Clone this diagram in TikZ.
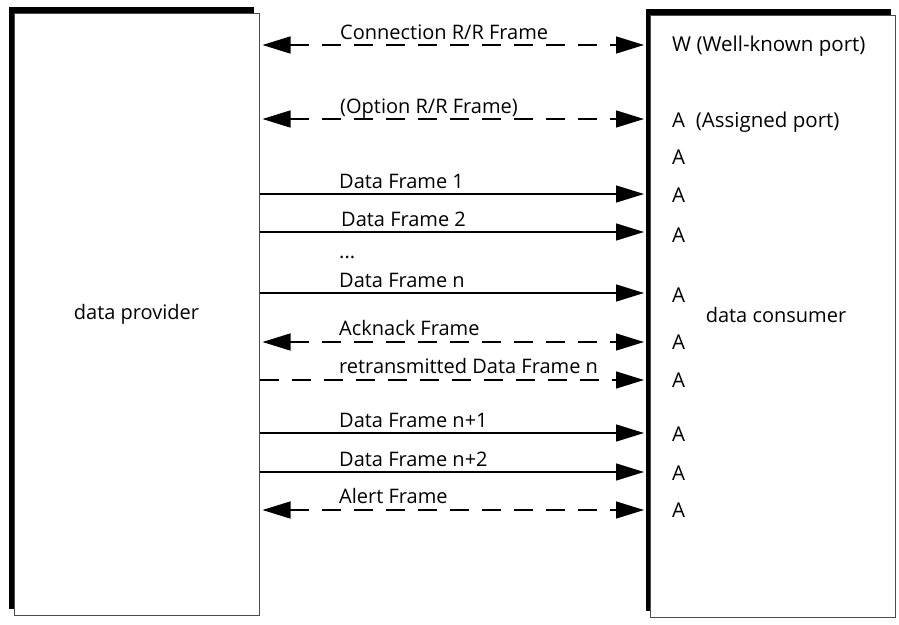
\documentclass[tikz,border=0pt]{standalone}
\usepackage{fontspec}
\setmainfont{Open Sans}
\usetikzlibrary{arrows.meta, shadows, positioning, calc}
\tikzstyle{party} = [rectangle, draw=black!70, line width=1pt, fill=white, minimum width=245pt, minimum height=602pt, general shadow={fill=black, shadow xshift=-5pt, shadow yshift=6pt}]
\tikzstyle{frame} = [line width=1.4pt, -{Triangle[length=28pt,width=17pt]}]
\tikzstyle{control} = [frame, {Triangle[length=28pt,width=17pt]}-{Triangle[length=28pt,width=17pt]}, dash pattern=on 19pt off 13pt]
\tikzstyle{resend} = [frame, dash pattern=on 19pt off 13pt]
\tikzstyle{framename} = [anchor=base west, inner sep=0pt]
\tikzstyle{port} = [anchor=base west, inner sep=0pt, font=\fontsize{20.5}{24}\selectfont]

\begin{document}
\begin{tikzpicture}[x=1pt, y=-1pt, font=\fontsize{20}{24}\selectfont]
    \useasboundingbox (0,0) rectangle (899,624);
    \node[party] (provider) at (136.5,314) {data provider};
    \node[party] (consumer) at (773,316) {\raisebox{3pt}{\hspace{6pt}data consumer}};
    \coordinate (outlet) at ([xshift=3pt]provider.east);
    \coordinate (inlet) at ([xshift=-6pt]consumer.west);

    % ports of the consumer
    \node[port] (wellknown) at (672,51) {W (Well-known port)};
    \node[port] (assigned) at (672,127) {A~~(Assigned port)};
    \node[port] (a1) at (672,164) {A};
    \node[port] (a2) at (672,202) {A};
    \node[port] (a3) at (672,242) {A};
    \node[port] (a4) at (672,302) {A};
    \node[port] (a5) at (672,349) {A};
    \node[port] (a6) at (672,387) {A};
    \node[port] (a7) at (672,441) {A};
    \node[port] (a8) at (672,480) {A};
    \node[port] (a9) at (672,517) {A};

    % frames
    \draw[control] (outlet |- 0,45) -- (inlet |- 0,45);
    \node[framename] (connection) at (340,39) {Connection R/R Frame};
    \draw[control] (outlet |- 0,119) -- (inlet |- 0,119);
    \node[framename] (option) at (340,113) {(Option R/R Frame)};
    \draw[frame] (provider.east |- 0,194) -- (inlet |- 0,194);
    \node[framename] (data1) at (339,188) {Data Frame 1};
    \draw[frame] (provider.east |- 0,232) -- (inlet |- 0,232);
    \node[framename] (data2) at (341,226) {Data Frame 2};
    \node[framename] (dots) at (339,258) {...};
    \draw[frame] (provider.east |- 0,293) -- (inlet |- 0,293);
    \node[framename] (datan) at (339,287) {Data Frame n};
    \draw[control] (outlet |- 0,342) -- (inlet |- 0,342);
    \node[framename] (acknack) at (339,335) {Acknack Frame};
    \draw[resend] (provider.east |- 0,380) -- (inlet |- 0,380);
    \node[framename] (retrans) at (339,373) {retransmitted Data Frame n};
    \draw[frame] (provider.east |- 0,433) -- (inlet |- 0,433);
    \node[framename] (datanext) at (339,427) {Data Frame n+1};
    \draw[frame] (provider.east |- 0,472) -- (inlet |- 0,472);
    \node[framename] (dataafter) at (339,466) {Data Frame n+2};
    \draw[control] (outlet |- 0,510) -- (inlet |- 0,510);
    \node[framename] (alert) at (339,503) {Alert Frame};
\end{tikzpicture}
\end{document}
